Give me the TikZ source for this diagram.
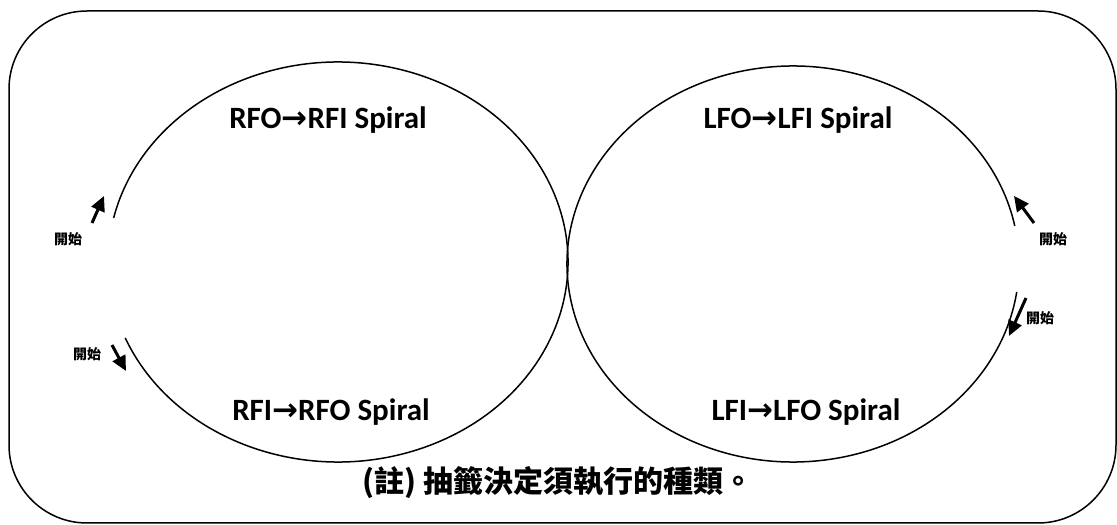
\documentclass[tikz,border=0pt]{standalone}
\usepackage{fontspec}
\setmainfont{Carlito}
\newfontfamily\cjk{Noto Sans CJK TC}
\newfontfamily\arrowfont{DejaVu Sans}
\usetikzlibrary{arrows.meta}
\tikzset{
	spiral/.style={font=\fontsize{31}{31}\selectfont\bfseries, anchor=base, inner sep=0pt},
	startlabel/.style={font=\cjk\fontsize{14}{14}\selectfont\bfseries, inner sep=0pt},
	note/.style={font=\cjk\fontsize{30}{30}\selectfont\bfseries, anchor=base, inner sep=0pt},
	startarrow/.style={line width=3pt, -{Triangle[length=15pt,width=14pt]}},
	ring/.style={line width=1.5pt}
}
\newcommand{\toarrow}{{\arrowfont\bfseries →}}

\begin{document}
\begin{tikzpicture}[x=1pt,y=1pt]
			\useasboundingbox (0,0) rectangle (1117,525);
			\draw [ring, rounded corners=78pt] (9,2) rectangle (1116,514); %
			
			% the two rings, open where the skater starts
			\coordinate (left-c) at (338,263);
			\coordinate (right-c) at (793,261);
			\draw [ring] (left-c) ++(202.3:230pt and 200pt) arc [start angle=202.3, end angle=527.3, x radius=230pt, y radius=200pt];
			\draw [ring] (right-c) ++(11.1:226pt and 198pt) arc [start angle=11.1, end angle=351.9, x radius=226pt, y radius=198pt];
			
			\foreach \pos/\tx/\ty/\hx/\hy/\lx/\ly in {lu/92/302/104/329/68/286, ll/112/180/126/154/87/171, ru/1034/302/1014/329/1053/286, rl/1026/227/1009/189/1040/207}
			{
				\coordinate (tail-\pos) at (\tx,\ty);
				\coordinate (tip-\pos) at (\hx,\hy);
				\draw [startarrow] (tail-\pos) -- (tip-\pos);
				\node [startlabel] (start-\pos) at (\lx,\ly) {開始};
			}
			
			\node [spiral] (rfo-rfi) at (328,396) {RFO\toarrow RFI Spiral};
			\node [spiral] (lfo-lfi) at (798,396) {LFO\toarrow LFI Spiral};
			\node [spiral] (rfi-rfo) at (331,104) {RFI\toarrow RFO Spiral};
			\node [spiral] (lfi-lfo) at (806,104) {LFI\toarrow LFO Spiral};
			
			\node [note] (note) at (558,32) {(註) 抽籤決定須執行的種類。};
			
		\end{tikzpicture}
\end{document}
